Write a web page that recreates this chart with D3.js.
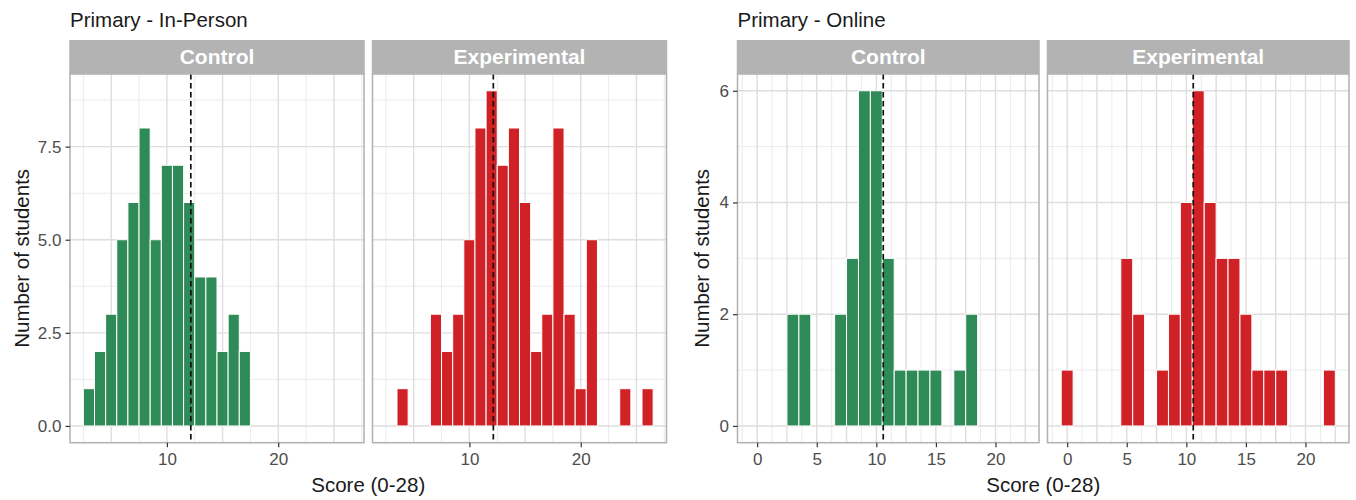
<!DOCTYPE html>
<html>
<head>
<meta charset="utf-8">
<script src="https://cdn.jsdelivr.net/npm/d3@7"></script>
<style>
  body { margin: 0; background: #fff; }
  svg { font-family: "Liberation Sans", Arial, sans-serif; }
</style>
</head>
<body>
<svg id="chart"></svg>
<script>
// counts per score (binwidth 1, bins centred on whole scores)
const ipControlScore = [3, 4, 5, 6, 7, 8, 9, 10, 11, 12, 13, 14, 15, 16, 17];
const ipControlCount = [1, 2, 3, 5, 6, 8, 5, 7, 7, 6, 4, 4, 2, 3, 2];
const ipExpScore = [4, 7, 8, 9, 10, 11, 12, 13, 14, 15, 16, 17, 18, 19, 20, 21, 24, 26];
const ipExpCount = [1, 3, 2, 3, 5, 8, 9, 7, 8, 6, 2, 3, 8, 3, 1, 5, 1, 1];
const onControlScore = [3, 4, 7, 8, 9, 10, 11, 12, 13, 14, 15, 17, 18];
const onControlCount = [2, 2, 2, 3, 6, 6, 3, 1, 1, 1, 1, 1, 2];
const onExpScore = [0, 5, 6, 8, 9, 10, 11, 12, 13, 14, 15, 16, 17, 18, 22];
const onExpCount = [1, 3, 2, 1, 2, 4, 6, 4, 3, 3, 2, 1, 1, 1, 1];

const facetNames = ["Control", "Experimental"];
const plotTitles = ["Primary - In-Person", "Primary - Online"];
const meanScores = [12.15, 10.58];
const ipYTicks = [0, 2.5, 5, 7.5];
const onYTicks = [0, 2, 4, 6];
const ipXTicks = [10, 20];
const onXTicks = [0, 5, 10, 15, 20];

const width = 1356;
const height = 500;
const svg = d3.select("#chart").attr("width", width).attr("height", height);

const green = "#2e8b57";
const red = "#d02127";

const panelTop = 74;
const panelBottom = 442.7;
const stripTop = 40;

function zip(scores, counts) {
  return scores.map((s, i) => ({ score: s, count: counts[i] }));
}

// ggplot-like 5% expansion
function expand(lo, hi) {
  const d = (hi - lo) * 0.05;
  return [lo - d, hi + d];
}

function drawPlot(opts) {
  const all = opts.facets.flat();
  const xDom = expand(d3.min(all, d => d.score) - 0.5, d3.max(all, d => d.score) + 0.5);
  const yDom = expand(0, d3.max(all, d => d.count));

  const y = d3.scaleLinear().domain(yDom).range([panelBottom, panelTop]);
  const yStep = opts.yTicks[1] - opts.yTicks[0];
  const yMinor = opts.yTicks.map(t => t + yStep / 2).filter(t => t < yDom[1]);

  const g = svg.append("g");

  // title
  g.append("text")
    .attr("x", opts.panels[0][0])
    .attr("y", 26.5)
    .attr("font-size", 20.5)
    .attr("fill", "#1a1a1a")
    .text(opts.title);

  opts.facets.forEach((data, i) => {
    const [x0, x1] = opts.panels[i];
    const x = d3.scaleLinear().domain(xDom).range([x0, x1]);
    const xStep = opts.xStep;
    const xMajor = d3.range(Math.ceil(xDom[0] / xStep) * xStep, xDom[1], xStep);
    const xMinor = xMajor.map(t => t + xStep / 2).concat([xMajor[0] - xStep / 2])
      .filter(t => t > xDom[0] && t < xDom[1]);

    const p = g.append("g");

    // grid
    p.selectAll(".ymin").data(yMinor).enter().append("line")
      .attr("x1", x0).attr("x2", x1)
      .attr("y1", d => y(d)).attr("y2", d => y(d))
      .attr("stroke", "#ebebeb").attr("stroke-width", 1);
    p.selectAll(".xmin").data(xMinor).enter().append("line")
      .attr("y1", panelTop).attr("y2", panelBottom)
      .attr("x1", d => x(d)).attr("x2", d => x(d))
      .attr("stroke", "#ebebeb").attr("stroke-width", 1);
    p.selectAll(".ymaj").data(opts.yTicks).enter().append("line")
      .attr("x1", x0).attr("x2", x1)
      .attr("y1", d => y(d)).attr("y2", d => y(d))
      .attr("stroke", "#dedede").attr("stroke-width", 1.4);
    p.selectAll(".xmaj").data(xMajor).enter().append("line")
      .attr("y1", panelTop).attr("y2", panelBottom)
      .attr("x1", d => x(d)).attr("x2", d => x(d))
      .attr("stroke", "#dedede").attr("stroke-width", 1.4);

    // bars
    p.selectAll("rect.bar").data(data).enter().append("rect")
      .attr("class", "bar")
      .attr("x", d => x(d.score - 0.5))
      .attr("width", d => x(d.score + 0.5) - x(d.score - 0.5))
      .attr("y", d => y(d.count))
      .attr("height", d => y(0) - y(d.count))
      .attr("fill", opts.colors[i])
      .attr("stroke", "#ffffff")
      .attr("stroke-width", 1);

    // mean line
    p.append("line")
      .attr("x1", x(opts.mean)).attr("x2", x(opts.mean))
      .attr("y1", panelTop).attr("y2", panelBottom)
      .attr("stroke", "#111").attr("stroke-width", 1.7)
      .attr("stroke-dasharray", "5.5,3.5");

    // panel border
    p.append("rect")
      .attr("x", x0).attr("y", panelTop)
      .attr("width", x1 - x0).attr("height", panelBottom - panelTop)
      .attr("fill", "none").attr("stroke", "#b0b0b0").attr("stroke-width", 1.5);

    // strip
    p.append("rect")
      .attr("x", x0 - 0.75).attr("y", stripTop)
      .attr("width", x1 - x0 + 1.5).attr("height", panelTop - stripTop)
      .attr("fill", "#b3b3b3");
    p.append("text")
      .attr("x", (x0 + x1) / 2).attr("y", 64)
      .attr("text-anchor", "middle")
      .attr("font-size", 21).attr("font-weight", "bold")
      .attr("fill", "#ffffff")
      .text(facetNames[i]);

    // x axis
    const xAxis = d3.axisBottom(x).tickValues(opts.xTicks).tickSize(4.5).tickPadding(6);
    const xa = p.append("g")
      .attr("transform", `translate(0,${panelBottom})`)
      .call(xAxis);
    xa.select(".domain").remove();
    xa.selectAll(".tick line").attr("stroke", "#333").attr("stroke-width", 1.2);
    xa.selectAll(".tick text").attr("font-size", 17).attr("fill", "#4d4d4d")
      .attr("font-family", "Liberation Sans, Arial, sans-serif");
  });

  // y axis
  const yAxis = d3.axisLeft(y).tickValues(opts.yTicks).tickFormat(opts.yFormat)
    .tickSize(4.5).tickPadding(4);
  const ya = g.append("g")
    .attr("transform", `translate(${opts.panels[0][0]},0)`)
    .call(yAxis);
  ya.select(".domain").remove();
  ya.selectAll(".tick line").attr("stroke", "#333").attr("stroke-width", 1.2);
  ya.selectAll(".tick text").attr("font-size", 17).attr("fill", "#4d4d4d")
    .attr("font-family", "Liberation Sans, Arial, sans-serif");

  // axis titles
  g.append("text")
    .attr("transform", `translate(${opts.yTitleX},${(panelTop + panelBottom) / 2}) rotate(-90)`)
    .attr("text-anchor", "middle")
    .attr("dy", "0.35em")
    .attr("font-size", 20.5)
    .attr("fill", "#1a1a1a")
    .text("Number of students");

  g.append("text")
    .attr("x", (opts.panels[0][0] + opts.panels[1][1]) / 2)
    .attr("y", 492)
    .attr("text-anchor", "middle")
    .attr("font-size", 20.5)
    .attr("fill", "#1a1a1a")
    .text("Score (0-28)");
}

drawPlot({
  title: plotTitles[0],
  facets: [zip(ipControlScore, ipControlCount), zip(ipExpScore, ipExpCount)],
  colors: [green, red],
  mean: meanScores[0],
  panels: [[70, 364], [372.5, 666.5]],
  yTicks: ipYTicks,
  yFormat: d3.format(".1f"),
  xTicks: ipXTicks,
  xStep: 5,
  yTitleX: 22
});

drawPlot({
  title: plotTitles[1],
  facets: [zip(onControlScore, onControlCount), zip(onExpScore, onExpCount)],
  colors: [green, red],
  mean: meanScores[1],
  panels: [[737.5, 1039], [1047.5, 1349]],
  yTicks: onYTicks,
  yFormat: d3.format("d"),
  xTicks: onXTicks,
  xStep: 2.5,
  yTitleX: 702
});
</script>
</body>
</html>
